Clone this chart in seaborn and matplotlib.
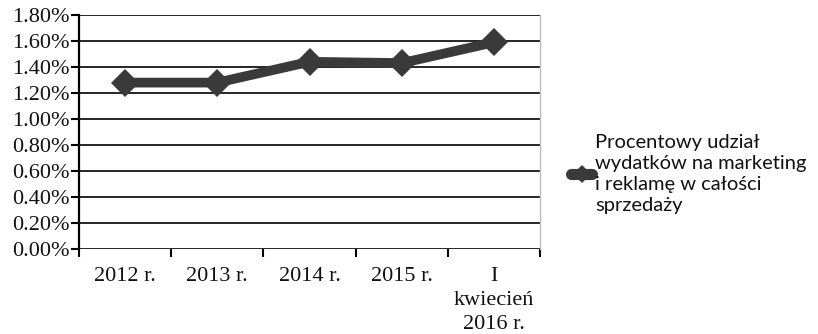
import matplotlib
matplotlib.use("Agg")
import matplotlib.pyplot as plt
from matplotlib.ticker import FixedLocator, FuncFormatter
import seaborn as sns
import pandas as pd

categories = ["2012 r.", "2013 r.", "2014 r.", "2015 r.", "I\nkwiecień\n2016 r."]
share_pct = [1.28, 1.28, 1.44, 1.43, 1.59]
y_ticks = [0.0, 0.2, 0.4, 0.6, 0.8, 1.0, 1.2, 1.4, 1.6, 1.8]
series_label = "Procentowy udział\nwydatków na marketing\ni reklamę w całości\nsprzedaży"

df = pd.DataFrame({"okres": categories, "udzial": share_pct})

sns.set_theme(style="white")
plt.rcParams["font.family"] = ["Liberation Serif", "DejaVu Serif"]

fig = plt.figure(figsize=(8.18, 3.34), dpi=100)
ax = fig.add_axes([79 / 818, 85 / 334, 461 / 818, 234 / 334])

line_color = "#3a3a3a"
sns.lineplot(data=df, x="okres", y="udzial", ax=ax, color=line_color,
             linewidth=7, marker="D", markersize=14, markeredgewidth=0,
             label=series_label, sort=False)

ax.set_xlim(-0.5, len(categories) - 0.5)
ax.set_ylim(0, 1.8)
ax.set_xlabel("")
ax.set_ylabel("")

# horizontal grid
ax.yaxis.set_major_locator(FixedLocator(y_ticks))
ax.yaxis.set_major_formatter(FuncFormatter(lambda v, p: f"{v:.2f}%"))
for v in y_ticks:
    ax.axhline(v, color="black", lw=1.2, zorder=1)

# category labels centred, tick marks between categories
ax.xaxis.set_major_locator(FixedLocator(list(range(len(categories)))))
ax.set_xticklabels(categories, linespacing=1.35)
ax.xaxis.set_minor_locator(FixedLocator([i - 0.5 for i in range(len(categories) + 1)]))
ax.tick_params(axis="x", which="major", length=0, labelsize=16, pad=13, colors="#111111")
ax.tick_params(axis="x", which="minor", length=6, width=1.5, color="black", direction="out", bottom=True)
ax.tick_params(axis="y", which="major", length=6, width=1.5, color="black", direction="out",
               labelsize=16, pad=1, left=True, labelcolor="#111111")

ax.spines["top"].set_visible(False)
ax.spines["bottom"].set_visible(False)
ax.spines["left"].set_color("black")
ax.spines["left"].set_linewidth(1.6)
ax.spines["right"].set_color("#bbbbbb")
ax.spines["right"].set_linewidth(1.0)

leg = ax.legend(loc="center left", bbox_to_anchor=(561 / 818, 160 / 334),
                bbox_transform=fig.transFigure, frameon=False,
                prop={"family": ["Lato", "DejaVu Sans"], "size": 14.5},
                handlelength=1.05, handletextpad=0.15, borderpad=0, labelspacing=0)
for t in leg.get_texts():
    t.set_linespacing(1.3)
    t.set_color("#111111")
for h in leg.get_lines():
    h.set_markersize(9)
    h.set_linewidth(8)

fig.savefig("out.png", dpi=100)
